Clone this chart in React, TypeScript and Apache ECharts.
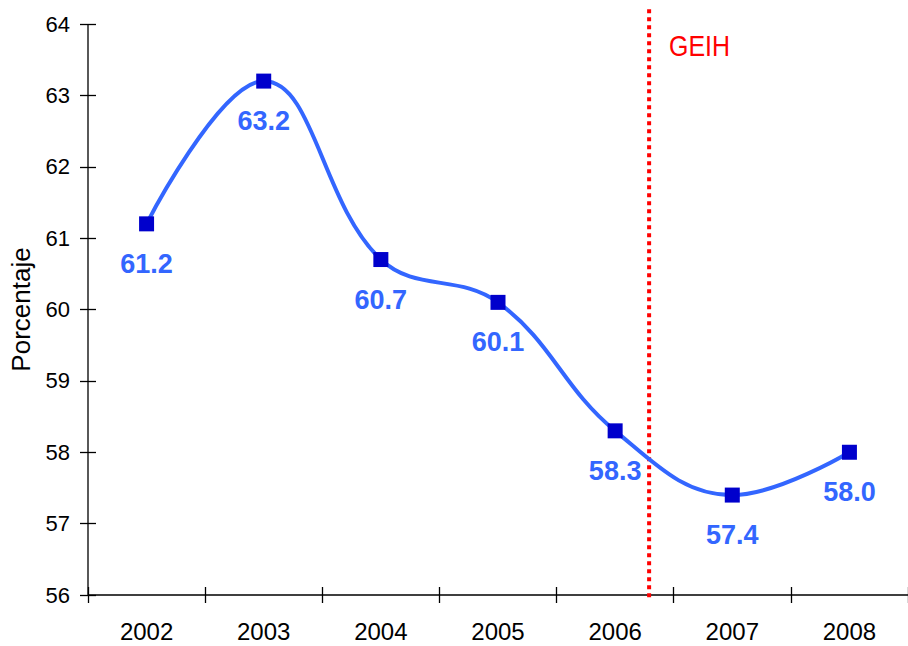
import React, { useEffect, useRef } from "react";
import * as echarts from "echarts";

const years = ["2002", "2003", "2004", "2005", "2006", "2007", "2008"];
const values = [61.2, 63.2, 60.7, 60.1, 58.3, 57.4, 58.0];
const breakPosition = 4.29; // between 2006 and 2007 (category index)
const breakLabel = "GEIH";
const yTitle = "Porcentaje";
const yMin = 56;
const yMax = 64;

export default function App() {
  const ref = useRef<HTMLDivElement>(null);
  useEffect(() => {
    if (!ref.current) return;
    const chart = echarts.init(ref.current, null, { renderer: "svg" });
    const font = "Liberation Sans, Arial, sans-serif";
    const tickStyle = { color: "#000", width: 1.3 };
    const xLo = -0.5;
    const xHi = years.length - 0.5;
    chart.setOption({
      animation: false,
      backgroundColor: "#ffffff",
      grid: { left: 88, top: 24, width: 821, bottom: 51, containLabel: false },
      xAxis: [
        {
          type: "category",
          data: years,
          boundaryGap: true,
          offset: -8,
          axisLine: { show: false, onZero: false },
          axisTick: { show: true, length: 16, lineStyle: tickStyle },
          axisLabel: { color: "#000", fontSize: 24, fontFamily: font, margin: 32 },
          splitLine: { show: false },
        },
        {
          type: "value",
          min: xLo,
          max: xHi,
          show: false,
        },
      ],
      yAxis: [
        {
          type: "value",
          min: yMin,
          max: yMax,
          interval: 1,
          offset: -8,
          name: yTitle,
          nameLocation: "middle",
          nameGap: 62,
          nameTextStyle: { color: "#000", fontSize: 26, fontFamily: font },
          axisLine: { show: false, onZero: false },
          axisTick: { show: true, length: 16, lineStyle: tickStyle },
          axisLabel: { color: "#000", fontSize: 22, fontFamily: font, margin: 26 },
          splitLine: { show: false },
        },
      ],
      series: [
        {
          type: "line",
          xAxisIndex: 0,
          yAxisIndex: 0,
          data: values,
          smooth: 0.4,
          symbol: "rect",
          symbolSize: 15,
          itemStyle: { color: "#0000CC" },
          lineStyle: { color: "#3366FF", width: 4 },
          label: {
            show: true,
            position: "bottom",
            distance: 19,
            color: "#3366FF",
            fontSize: 27,
            fontWeight: "bold",
            fontFamily: font,
            formatter: (p: any) => Number(p.value).toFixed(1),
          },
          z: 3,
        },
        {
          type: "line",
          xAxisIndex: 1,
          yAxisIndex: 0,
          data: [
            [breakPosition, 55.97],
            [breakPosition, 64.22],
          ],
          clip: false,
          symbol: "none",
          lineStyle: { color: "#FF0000", width: 4, type: [4, 4] },
          z: 2,
          silent: true,
        },
        {
          // axis lines (L shape)
          type: "line",
          xAxisIndex: 1,
          yAxisIndex: 0,
          data: [
            [xLo, yMax],
            [xLo, yMin],
            [xHi, yMin],
          ],
          clip: false,
          symbol: "none",
          lineStyle: { color: "#000", width: 1.3 },
          z: 1,
          silent: true,
        },
      ],
      graphic: [
        {
          type: "text",
          x: 669,
          y: 32,
          scaleX: 0.86,
          style: {
            text: breakLabel,
            fill: "#FF0000",
            font: "29px 'Liberation Sans', Arial, sans-serif",
          },
        },
      ],
    });
    return () => chart.dispose();
  }, []);
  return <div ref={ref} style={{ width: 908, height: 646, position: "absolute", left: 0, top: 0 }} />;
}
